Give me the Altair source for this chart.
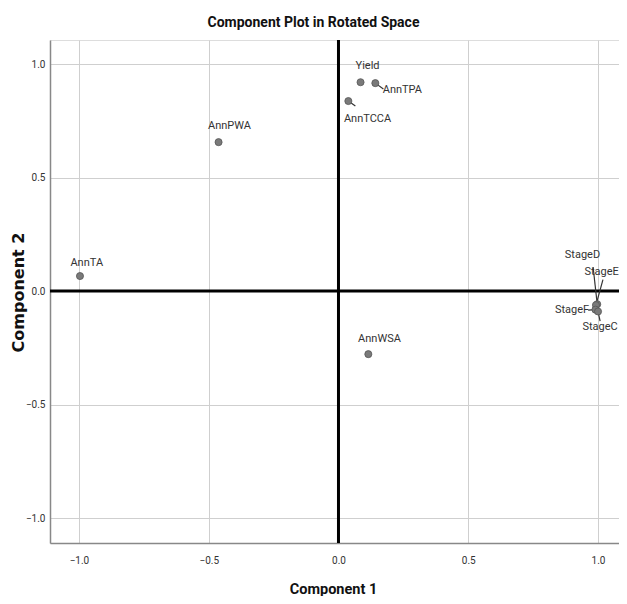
import altair as alt
import pandas as pd

# Variables and their rotated component loadings
labels = ["Yield", "AnnTPA", "AnnTCCA", "AnnPWA", "AnnTA", "AnnWSA",
          "StageD", "StageE", "StageF", "StageC"]
comp1 = [0.085, 0.142, 0.038, -0.462, -0.996, 0.115, 0.997, 0.992, 0.990, 1.000]
comp2 = [0.920, 0.916, 0.837, 0.656, 0.066, -0.278, -0.058, -0.062, -0.082, -0.090]

# Label anchor positions (data units) and leader-line ends
label_x = [0.112, 0.246, 0.112, -0.420, -0.970, 0.158, 0.940, 1.014, 0.900, 1.008]
label_y = [0.990, 0.885, 0.758, 0.727, 0.123, -0.211, 0.159, 0.084, -0.084, -0.159]
lead_x = [None, 0.173, 0.065, None, None, None, 0.981, 1.019, 0.962, 1.008]
lead_y = [None, 0.890, 0.815, None, None, None, 0.106, 0.050, -0.084, -0.132]

tick_vals = [-1.0, -0.5, 0.0, 0.5, 1.0]

FONT = "Roboto, Liberation Sans, sans-serif"

df = pd.DataFrame({"label": labels, "c1": comp1, "c2": comp2,
                   "lx": label_x, "ly": label_y})
leads = pd.DataFrame({"c1": comp1, "c2": comp2, "ex": lead_x, "ey": lead_y}).dropna()
zero_df = pd.DataFrame({"z": [0.0]})

xs = alt.Scale(domain=[-1.1115, 1.0808], nice=False, zero=False)
ys = alt.Scale(domain=[-1.110, 1.106], nice=False, zero=False)

xaxis = alt.Axis(values=tick_vals, format=".1f", title="Component 1",
                 titleX=283, titleY=46, titleBaseline="middle", titleAlign="center",
                 titleFont=FONT, titleFontSize=14.5, titleFontWeight="bold",
                 titleColor="#111", labelPadding=12, labelFontSize=10,
                 labelFont=FONT, labelColor="#333", ticks=False,
                 domainColor="#888", domainWidth=1.5, gridColor="#cfcfcf",
                 labelFlush=False)
yaxis = alt.Axis(values=tick_vals, format=".1f", title="Component 2",
                 titleX=-32, titleY=252, titleBaseline="middle", titleAlign="center",
                 titleFont="DejaVu Sans, sans-serif", titleFontSize=16,
                 titleFontWeight="bold", titleColor="#111", labelPadding=5,
                 labelFontSize=10, labelFont=FONT, labelColor="#333", ticks=False,
                 domainColor="#888", domainWidth=1.5, gridColor="#cfcfcf",
                 labelFlush=False)


def X(field):
    return alt.X(field, type="quantitative", scale=xs, axis=xaxis)


def Y(field):
    return alt.Y(field, type="quantitative", scale=ys, axis=yaxis)


vline = alt.Chart(zero_df).mark_rule(color="black", strokeWidth=3).encode(x=X("z"))
hline = alt.Chart(zero_df).mark_rule(color="black", strokeWidth=3).encode(y=Y("z"))

lines = alt.Chart(leads).mark_rule(color="#333", strokeWidth=1.2).encode(
    x=X("c1"), y=Y("c2"), x2="ex:Q", y2="ey:Q")

pts = alt.Chart(df).mark_point(filled=True, size=50, color="#7a7a7a", stroke="#555",
                               strokeWidth=0.8, opacity=1).encode(
    x=X("c1"), y=Y("c2"))

txt = alt.Chart(df).mark_text(font=FONT, fontSize=11, color="#333", baseline="middle",
                              align="center").encode(
    x=X("lx"), y=Y("ly"), text="label:N")

chart = alt.layer(vline, hline, lines, pts, txt).properties(
    width=569, height=503,
    autosize=alt.AutoSizeParams(type="none"),
    padding={"left": 42, "top": 32, "right": 0, "bottom": 53},
    title=alt.TitleParams("Component Plot in Rotated Space", font=FONT,
                          fontSize=14, fontWeight="bold", color="#111",
                          anchor="middle", dx=-21, offset=9),
).configure_view(strokeWidth=0).configure(background="white")

chart.save("out.html", embed_options={"renderer": "svg", "actions": False})
